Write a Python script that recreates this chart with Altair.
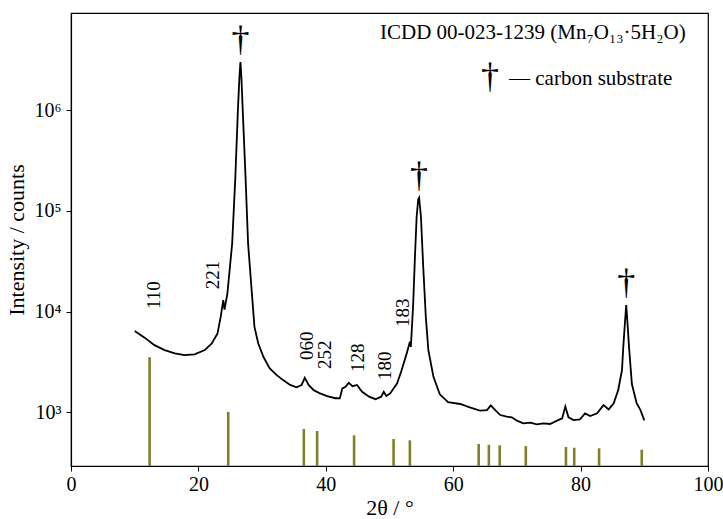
import altair as alt
import pandas as pd

# measured XRD pattern (2theta in degrees, intensity in counts)
two_theta = [10.0, 11.5, 13.1, 14.7, 16.3, 17.8, 19.4, 21.0, 22.1, 23.0, 23.5, 23.9, 24.1,
             24.55, 24.9, 25.3, 25.8, 26.2, 26.44, 26.6, 26.75, 26.96, 27.4, 27.8, 28.4, 28.8,
             29.4, 30.2, 31.2, 32.3, 33.3, 34.4, 35.4, 36.2, 36.7, 37.3, 38.1, 39.1, 40.2,
             41.5, 42.2, 42.6, 43.1, 43.6, 44.2, 44.9, 45.7, 46.8, 47.8, 48.7, 49.1, 49.5,
             50.1, 51.2, 51.9, 52.7, 53.2, 53.35, 53.7, 54.0, 54.26, 54.5, 54.65, 54.94, 55.3,
             55.7, 56.1, 56.9, 57.9, 59.2, 61.1, 62.6, 64.2, 65.3, 65.9, 66.6, 67.4, 68.4,
             69.2, 70.0, 71.0, 72.1, 73.1, 74.2, 75.2, 76.3, 77.1, 77.6, 78.1, 78.9, 79.9,
             80.7, 81.5, 82.6, 83.6, 84.4, 85.2, 85.9, 86.5, 86.7, 86.95, 87.16, 87.37, 87.6,
             88.05, 88.8, 89.4, 90.0]
intensity = [6440, 5550, 4650, 4150, 3850, 3700, 3760, 4150, 4830, 6070, 8870, 13000, 10500,
             15100, 25700, 47400, 217000, 998000, 2140000, 3010000, 2140000, 1000000, 217000,
             47400, 15100, 7060, 4830, 3560, 2730, 2340, 2090, 1870, 1770, 1870, 2200, 1870,
             1660, 1540, 1450, 1380, 1380, 1730, 1790, 1960, 1820, 1870, 1600, 1430, 1350,
             1430, 1600, 1450, 1540, 1940, 2620, 3850, 5010, 4470, 11200, 35500, 87100,
             129000, 135000, 87100, 27500, 8870, 4150, 2250, 1510, 1260, 1210, 1120, 1040,
             1050, 1170, 1050, 940, 904, 891, 826, 778, 789, 760, 778, 766, 826, 871, 1140,
             891, 838, 851, 977, 918, 977, 1180, 1070, 1230, 1660, 2630, 4470, 7590, 11600,
             7590, 4470, 1910, 1230, 1050, 832]

# ICDD 00-023-1239 reference lines
ref_pos = [12.34, 24.68, 36.55, 38.64, 44.44, 50.64, 53.2, 64.0, 65.6, 67.3, 71.4, 77.7,
           79.0, 82.9, 89.6]
ref_int = [3530, 1010, 682, 652, 591, 543, 527, 484, 476, 470, 462, 452, 445, 439, 425]

# hkl labels
hkl_text = ["110", "221", "060", "252", "128", "180", "183"]
hkl_x = [13.0, 22.3, 37.0, 39.9, 45.0, 49.3, 52.1]
hkl_y = [10600, 16700, 3300, 2690, 2510, 2090, 7020]

# carbon substrate peaks
sub_x = [26.6, 54.65, 87.16]
sub_y = [3010000, 135000, 11600]

x_ticks = [0, 20, 40, 60, 80, 100]
y_ticks = [1000, 10000, 100000, 1000000]
X_DOMAIN = [0, 100]
Y_DOMAIN = [293, 9.25e6]

legend_line1 = "ICDD 00-023-1239 (Mn₇O₁₃·5H₂O)"
legend_line2 = "— carbon substrate"
dagger = "†"

FONT = "Liberation Serif"
W, H = 637, 453

curve = pd.DataFrame({"x": two_theta, "y": intensity})
ref = pd.DataFrame({"x": ref_pos, "y": ref_int})
hkl = pd.DataFrame({"x": hkl_x, "y": hkl_y, "t": hkl_text})
sub = pd.DataFrame({"x": sub_x, "y": sub_y})

xscale = alt.Scale(domain=X_DOMAIN, nice=False, zero=False)
yscale = alt.Scale(type="log", domain=Y_DOMAIN, nice=False)

xaxis = alt.Axis(values=x_ticks, title="2θ / °", format="d", labelFontSize=20,
                 titleFontSize=22, tickSize=5, labelPadding=3, titlePadding=3, grid=False,
                 labelFlush=False)
yaxis = alt.Axis(values=y_ticks, title="Intensity / counts", labelFontSize=20,
                 titleFontSize=22, tickSize=5, labelPadding=5, titlePadding=6, grid=False,
                 labelExpr="datum.value == 1000 ? '10³' : datum.value == 10000 ? '10⁴' : "
                           "datum.value == 100000 ? '10⁵' : '10⁶'")

sticks = alt.Chart(ref).mark_rule(color="#808028", strokeWidth=2.6).encode(
    x=alt.X("x:Q", scale=xscale, axis=xaxis),
    y=alt.Y("y:Q", scale=yscale, axis=yaxis),
    y2=alt.datum(Y_DOMAIN[0]),
)

line = alt.Chart(curve).mark_line(color="black", strokeWidth=1.8).encode(
    x=alt.X("x:Q", scale=xscale),
    y=alt.Y("y:Q", scale=yscale),
)

labels = alt.Chart(hkl).mark_text(angle=270, align="left", baseline="middle",
                                  font=FONT, fontSize=19, color="black").encode(
    x=alt.X("x:Q", scale=xscale),
    y=alt.Y("y:Q", scale=yscale),
    text="t:N",
)

daggers = alt.Chart(sub).mark_text(text=dagger, font=FONT, fontSize=36, align="center",
                                   baseline="alphabetic", dy=-11, color="black").encode(
    x=alt.X("x:Q", scale=xscale),
    y=alt.Y("y:Q", scale=yscale),
)

leg1 = alt.Chart(pd.DataFrame({"t": [legend_line1]})).mark_text(
    font=FONT, fontSize=21, align="left", baseline="alphabetic", color="black").encode(
    x=alt.value(309), y=alt.value(26), text="t:N")

leg_dag = alt.Chart(pd.DataFrame({"t": [dagger]})).mark_text(
    font=FONT, fontSize=36, align="center", baseline="alphabetic", color="black").encode(
    x=alt.value(419), y=alt.value(75), text="t:N")

leg2 = alt.Chart(pd.DataFrame({"t": [legend_line2]})).mark_text(
    font=FONT, fontSize=21, align="left", baseline="alphabetic", color="black").encode(
    x=alt.value(438), y=alt.value(72), text="t:N")

chart = alt.layer(sticks, line, labels, daggers, leg1, leg_dag, leg2).properties(
    width=W, height=H,
    autosize=alt.AutoSizeParams(type="none"),
    padding={"left": 71, "top": 13, "right": 15, "bottom": 53},
).configure_view(stroke="black", strokeWidth=1.2).configure_axis(
    domainColor="black", tickColor="black", labelColor="black", titleColor="black",
    labelFont=FONT, titleFont=FONT, titleFontWeight="normal", domainWidth=1.2,
)

chart.save("out.html", embed_options={"renderer": "svg", "actions": False})
